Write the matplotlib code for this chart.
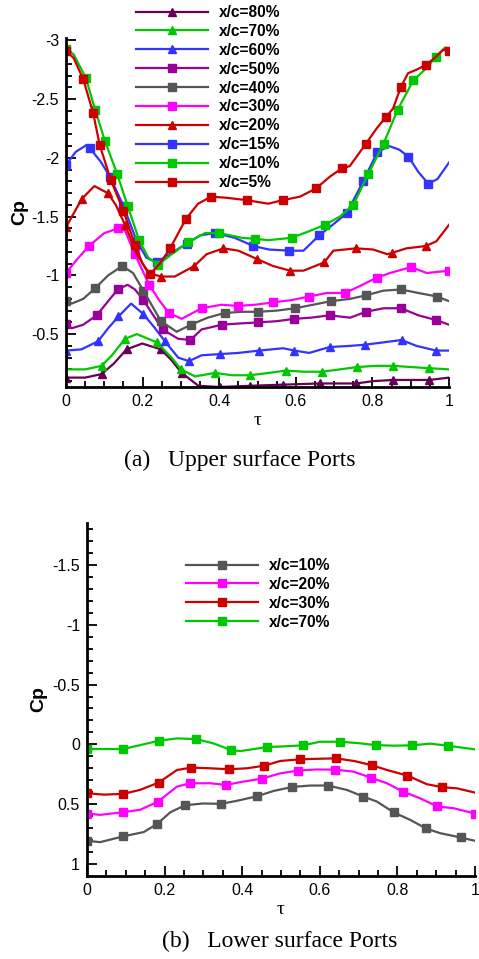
import matplotlib
matplotlib.use('Agg')
import matplotlib.pyplot as plt
from matplotlib.ticker import MultipleLocator, FuncFormatter

plt.rcParams['font.family'] = 'Liberation Sans'
plt.rcParams['axes.unicode_minus'] = False

# ---- upper surface ports (tau, Cp) ----
labels_up = ['x/c=80%', 'x/c=70%', 'x/c=60%', 'x/c=50%', 'x/c=40%',
             'x/c=30%', 'x/c=20%', 'x/c=15%', 'x/c=10%', 'x/c=5%']

tau_80 = [0, 0.05, 0.093, 0.125, 0.158, 0.199, 0.248, 0.275, 0.302, 0.346, 0.402, 0.48, 0.567, 0.663, 0.757, 0.802, 0.855, 0.949, 1.0]
cp_80 = [-0.13, -0.13, -0.16, -0.25, -0.37, -0.42, -0.37, -0.28, -0.17, -0.06, -0.05, -0.06, -0.07, -0.08, -0.08, -0.10, -0.11, -0.11, -0.13]

tau_70 = [0, 0.05, 0.093, 0.12, 0.154, 0.185, 0.237, 0.276, 0.300, 0.337, 0.389, 0.433, 0.480, 0.53, 0.574, 0.62, 0.668, 0.715, 0.761, 0.81, 0.855, 0.90, 0.949, 1.0]
cp_70 = [-0.20, -0.20, -0.23, -0.32, -0.46, -0.50, -0.43, -0.30, -0.20, -0.14, -0.17, -0.15, -0.15, -0.17, -0.19, -0.18, -0.18, -0.20, -0.22, -0.23, -0.23, -0.22, -0.21, -0.20]

tau_60 = [0, 0.04, 0.084, 0.11, 0.137, 0.170, 0.202, 0.230, 0.258, 0.293, 0.321, 0.354, 0.402, 0.45, 0.505, 0.567, 0.596, 0.635, 0.688, 0.742, 0.781, 0.829, 0.876, 0.915, 0.966, 1.0]
cp_60 = [-0.36, -0.37, -0.44, -0.55, -0.65, -0.76, -0.67, -0.56, -0.44, -0.30, -0.27, -0.32, -0.33, -0.34, -0.36, -0.38, -0.36, -0.34, -0.39, -0.40, -0.41, -0.43, -0.45, -0.40, -0.36, -0.36]

tau_50 = [0, 0.015, 0.045, 0.080, 0.11, 0.135, 0.161, 0.180, 0.202, 0.252, 0.293, 0.325, 0.354, 0.407, 0.45, 0.502, 0.55, 0.596, 0.640, 0.688, 0.742, 0.783, 0.829, 0.875, 0.920, 0.966, 1.0]
cp_50 = [-0.59, -0.55, -0.58, -0.66, -0.78, -0.88, -0.92, -0.88, -0.79, -0.54, -0.46, -0.45, -0.54, -0.58, -0.59, -0.60, -0.61, -0.63, -0.64, -0.66, -0.64, -0.69, -0.72, -0.72, -0.66, -0.62, -0.58]

tau_40 = [0, 0.015, 0.045, 0.076, 0.11, 0.147, 0.175, 0.202, 0.248, 0.289, 0.326, 0.37, 0.414, 0.46, 0.502, 0.55, 0.598, 0.645, 0.691, 0.742, 0.783, 0.829, 0.875, 0.920, 0.969, 1.0]
cp_40 = [-0.78, -0.76, -0.80, -0.89, -1.00, -1.08, -1.02, -0.87, -0.61, -0.52, -0.58, -0.64, -0.68, -0.69, -0.69, -0.70, -0.72, -0.75, -0.78, -0.80, -0.83, -0.87, -0.88, -0.85, -0.82, -0.78]

tau_30 = [0, 0.03, 0.060, 0.10, 0.137, 0.154, 0.180, 0.217, 0.245, 0.269, 0.302, 0.354, 0.406, 0.448, 0.494, 0.540, 0.590, 0.635, 0.681, 0.728, 0.768, 0.811, 0.846, 0.901, 0.942, 1.0]
cp_30 = [-1.02, -1.14, -1.25, -1.36, -1.40, -1.38, -1.18, -0.92, -0.78, -0.68, -0.63, -0.72, -0.75, -0.74, -0.75, -0.77, -0.79, -0.82, -0.85, -0.85, -0.91, -0.98, -1.02, -1.07, -1.02, -1.04]

tau_20 = [0, 0.041, 0.074, 0.109, 0.13, 0.154, 0.185, 0.215, 0.248, 0.284, 0.335, 0.367, 0.411, 0.45, 0.498, 0.54, 0.585, 0.620, 0.674, 0.698, 0.757, 0.802, 0.839, 0.850, 0.889, 0.940, 0.967, 1.0]
cp_20 = [-1.41, -1.65, -1.76, -1.70, -1.60, -1.43, -1.18, -1.02, -0.99, -0.99, -1.08, -1.18, -1.23, -1.21, -1.14, -1.08, -1.04, -1.04, -1.11, -1.21, -1.23, -1.22, -1.18, -1.19, -1.23, -1.25, -1.29, -1.43]

tau_15 = [0, 0.025, 0.054, 0.063, 0.09, 0.115, 0.150, 0.185, 0.21, 0.237, 0.27, 0.315, 0.35, 0.389, 0.44, 0.489, 0.53, 0.583, 0.620, 0.661, 0.70, 0.733, 0.776, 0.813, 0.844, 0.87, 0.894, 0.92, 0.946, 0.97, 1.0]
cp_15 = [-1.94, -2.05, -2.11, -2.08, -1.97, -1.84, -1.59, -1.29, -1.15, -1.11, -1.18, -1.27, -1.34, -1.36, -1.32, -1.25, -1.22, -1.21, -1.21, -1.34, -1.44, -1.53, -1.80, -2.05, -2.10, -2.07, -2.01, -1.88, -1.78, -1.82, -1.96]

tau_10 = [0, 0.02, 0.052, 0.076, 0.102, 0.134, 0.161, 0.191, 0.215, 0.241, 0.276, 0.318, 0.363, 0.400, 0.459, 0.493, 0.53, 0.589, 0.63, 0.676, 0.715, 0.750, 0.789, 0.829, 0.866, 0.907, 0.94, 0.966, 0.99, 1.0]
cp_10 = [-2.93, -2.88, -2.68, -2.41, -2.14, -1.86, -1.59, -1.30, -1.15, -1.09, -1.18, -1.28, -1.36, -1.36, -1.32, -1.31, -1.30, -1.32, -1.37, -1.43, -1.50, -1.60, -1.86, -2.12, -2.41, -2.66, -2.76, -2.86, -2.94, -2.92]

tau_5 = [0, 0.02, 0.045, 0.071, 0.088, 0.117, 0.150, 0.180, 0.200, 0.219, 0.245, 0.272, 0.313, 0.345, 0.379, 0.42, 0.472, 0.528, 0.566, 0.611, 0.653, 0.689, 0.720, 0.741, 0.783, 0.811, 0.836, 0.854, 0.874, 0.893, 0.915, 0.939, 0.959, 0.985, 1.0]
cp_5 = [-2.91, -2.85, -2.67, -2.38, -2.11, -1.81, -1.55, -1.26, -1.10, -1.01, -1.10, -1.23, -1.48, -1.61, -1.67, -1.66, -1.64, -1.61, -1.64, -1.67, -1.74, -1.84, -1.91, -1.93, -2.12, -2.25, -2.35, -2.42, -2.60, -2.72, -2.75, -2.79, -2.84, -2.92, -2.91]

# ---- lower surface ports ----
labels_lo = ['x/c=10%', 'x/c=20%', 'x/c=30%', 'x/c=70%']

tlo_10 = [0, 0.034, 0.093, 0.146, 0.180, 0.215, 0.253, 0.300, 0.345, 0.386, 0.439, 0.481, 0.529, 0.575, 0.621, 0.670, 0.712, 0.747, 0.791, 0.833, 0.874, 0.910, 0.963, 1.0]
clo_10 = [0.806, 0.817, 0.769, 0.733, 0.667, 0.567, 0.508, 0.494, 0.497, 0.472, 0.433, 0.389, 0.356, 0.344, 0.344, 0.381, 0.436, 0.478, 0.569, 0.631, 0.703, 0.742, 0.778, 0.806]

tlo_20 = [0, 0.034, 0.093, 0.137, 0.183, 0.232, 0.266, 0.318, 0.358, 0.403, 0.452, 0.498, 0.544, 0.59, 0.639, 0.687, 0.731, 0.773, 0.814, 0.858, 0.903, 0.944, 1.0]
clo_20 = [0.578, 0.589, 0.567, 0.547, 0.478, 0.353, 0.325, 0.325, 0.339, 0.311, 0.286, 0.242, 0.219, 0.21, 0.211, 0.228, 0.278, 0.325, 0.394, 0.45, 0.519, 0.533, 0.578]

tlo_30 = [0, 0.043, 0.093, 0.137, 0.185, 0.232, 0.269, 0.318, 0.365, 0.412, 0.457, 0.498, 0.548, 0.60, 0.642, 0.69, 0.735, 0.773, 0.826, 0.876, 0.916, 0.953, 1.0]
clo_30 = [0.408, 0.42, 0.414, 0.38, 0.319, 0.214, 0.194, 0.20, 0.208, 0.20, 0.178, 0.139, 0.125, 0.12, 0.117, 0.14, 0.175, 0.214, 0.261, 0.333, 0.358, 0.367, 0.403]

tlo_70 = [0, 0.093, 0.120, 0.186, 0.232, 0.282, 0.326, 0.371, 0.395, 0.465, 0.506, 0.556, 0.601, 0.652, 0.70, 0.744, 0.790, 0.837, 0.884, 0.930, 1.0]
clo_70 = [0.039, 0.039, 0.019, -0.031, -0.05, -0.044, -0.008, 0.047, 0.056, 0.022, 0.017, 0.008, -0.022, -0.022, -0.01, 0.006, 0.011, 0.008, -0.006, 0.011, 0.042]

# styles: (color, marker, marker indices)
RED, GREEN, BLUE = '#cc0000', '#00c800', '#3333ff'
MAG, GRAY, PURP, DPURP = '#ff00ff', '#555555', '#990099', '#660055'

up_series = [
    (tau_80, cp_80, DPURP, '^', [0, 2, 4, 6, 8, 10, 11, 12, 13, 14, 16, 17]),
    (tau_70, cp_70, GREEN, '^', [2, 4, 6, 8, 10, 12, 14, 16, 18, 20, 22]),
    (tau_60, cp_60, BLUE, '^', [0, 2, 4, 6, 8, 10, 12, 14, 16, 18, 20, 22, 24]),
    (tau_50, cp_50, PURP, 's', [0, 3, 5, 8, 9, 11, 13, 15, 17, 19, 21, 23, 25]),
    (tau_40, cp_40, GRAY, 's', [0, 3, 5, 7, 8, 10, 12, 14, 16, 18, 20, 22, 24]),
    (tau_30, cp_30, MAG, 's', [0, 2, 4, 6, 7, 9, 11, 13, 15, 17, 19, 21, 23, 25]),
    (tau_20, cp_20, RED, '^', [0, 1, 3, 5, 8, 10, 12, 14, 16, 18, 20, 23, 25]),
    (tau_15, cp_15, BLUE, 's', [0, 3, 5, 6, 7, 9, 11, 13, 15, 17, 19, 21, 22, 23, 26, 28]),
    (tau_10, cp_10, GREEN, 's', [0, 2, 3, 4, 5, 6, 7, 9, 11, 13, 15, 17, 19, 21, 22, 23, 24, 25, 27]),
    (tau_5, cp_5, RED, 's', [0, 2, 3, 4, 5, 6, 7, 9, 11, 12, 14, 16, 18, 20, 22, 24, 26, 28, 31, 34]),
]

lo_series = [
    (tlo_10, clo_10, GRAY, [0, 2, 4, 6, 8, 10, 12, 14, 16, 18, 20, 22]),
    (tlo_20, clo_20, MAG, [0, 2, 4, 6, 8, 10, 12, 14, 16, 18, 20, 22]),
    (tlo_30, clo_30, RED, [0, 2, 4, 6, 8, 10, 12, 14, 16, 18, 20]),
    (tlo_70, clo_70, GREEN, [0, 1, 3, 5, 7, 9, 11, 13, 15, 17, 19]),
]

fmt = FuncFormatter(lambda v, p: '%g' % round(v, 3))


def style_axes(ax, ymajor):
    for s in ['top', 'right']:
        ax.spines[s].set_visible(False)
    for s in ['left', 'bottom']:
        ax.spines[s].set_linewidth(2)
    ax.xaxis.set_major_locator(MultipleLocator(0.2))
    ax.xaxis.set_minor_locator(MultipleLocator(0.05))
    ax.yaxis.set_major_locator(MultipleLocator(ymajor))
    ax.yaxis.set_minor_locator(MultipleLocator(0.1))
    ax.xaxis.set_major_formatter(fmt)
    ax.yaxis.set_major_formatter(fmt)
    ax.tick_params(which='both', direction='in', top=False, right=False,
                   labelsize=11.5, width=1.3, pad=5)
    ax.tick_params(which='major', length=7)
    ax.tick_params(which='minor', length=4)


leg_kw = dict(loc='upper left', frameon=False,
              prop={'weight': 'bold', 'size': 11.2}, handlelength=4.6,
              handletextpad=0.75, labelspacing=0.25, borderpad=0,
              borderaxespad=0)

fig = plt.figure(figsize=(4.79, 9.59), dpi=100)

# upper
ax1 = fig.add_axes([66 / 479, 1 - 387 / 959, 383 / 479, 349 / 959])
handles = []
for t, c, col, mk, every in up_series:
    h, = ax1.plot(t, c, color=col, lw=1.6, marker=mk, markersize=6,
                  markevery=every)
    handles.append(h)
ax1.set_xlim(0, 1)
ax1.set_ylim(-0.05, -3.02)
style_axes(ax1, 0.5)
ax1.set_ylabel('Cp', fontsize=14, fontweight='bold', labelpad=2)
ax1.set_xlabel('τ', fontsize=14, family='Liberation Serif', labelpad=2)
fig.legend(handles, labels_up, bbox_to_anchor=(136 / 479, 1 - 5 / 959), **leg_kw)
fig.text(240 / 479, 1 - 460 / 959, '(a)   Upper surface Ports',
         family='Liberation Serif', fontsize=17, ha='center', va='center')

# lower
ax2 = fig.add_axes([87 / 479, 1 - 876 / 959, 388 / 479, 353 / 959])
handles = []
for t, c, col, every in lo_series:
    h, = ax2.plot(t, c, color=col, lw=1.6, marker='s', markersize=6,
                  markevery=every)
    handles.append(h)
ax2.set_xlim(0, 1)
ax2.set_ylim(1.1, -1.85)
style_axes(ax2, 0.5)
ax2.set_ylabel('Cp', fontsize=14, fontweight='bold', labelpad=4)
ax2.set_xlabel('τ', fontsize=14, family='Liberation Serif', labelpad=2)
fig.legend(handles, labels_lo, bbox_to_anchor=(186 / 479, 1 - 558 / 959), **leg_kw)
fig.text(280 / 479, 1 - 941 / 959, '(b)   Lower surface Ports',
         family='Liberation Serif', fontsize=17, ha='center', va='center')

fig.savefig('out.png', dpi=100)
